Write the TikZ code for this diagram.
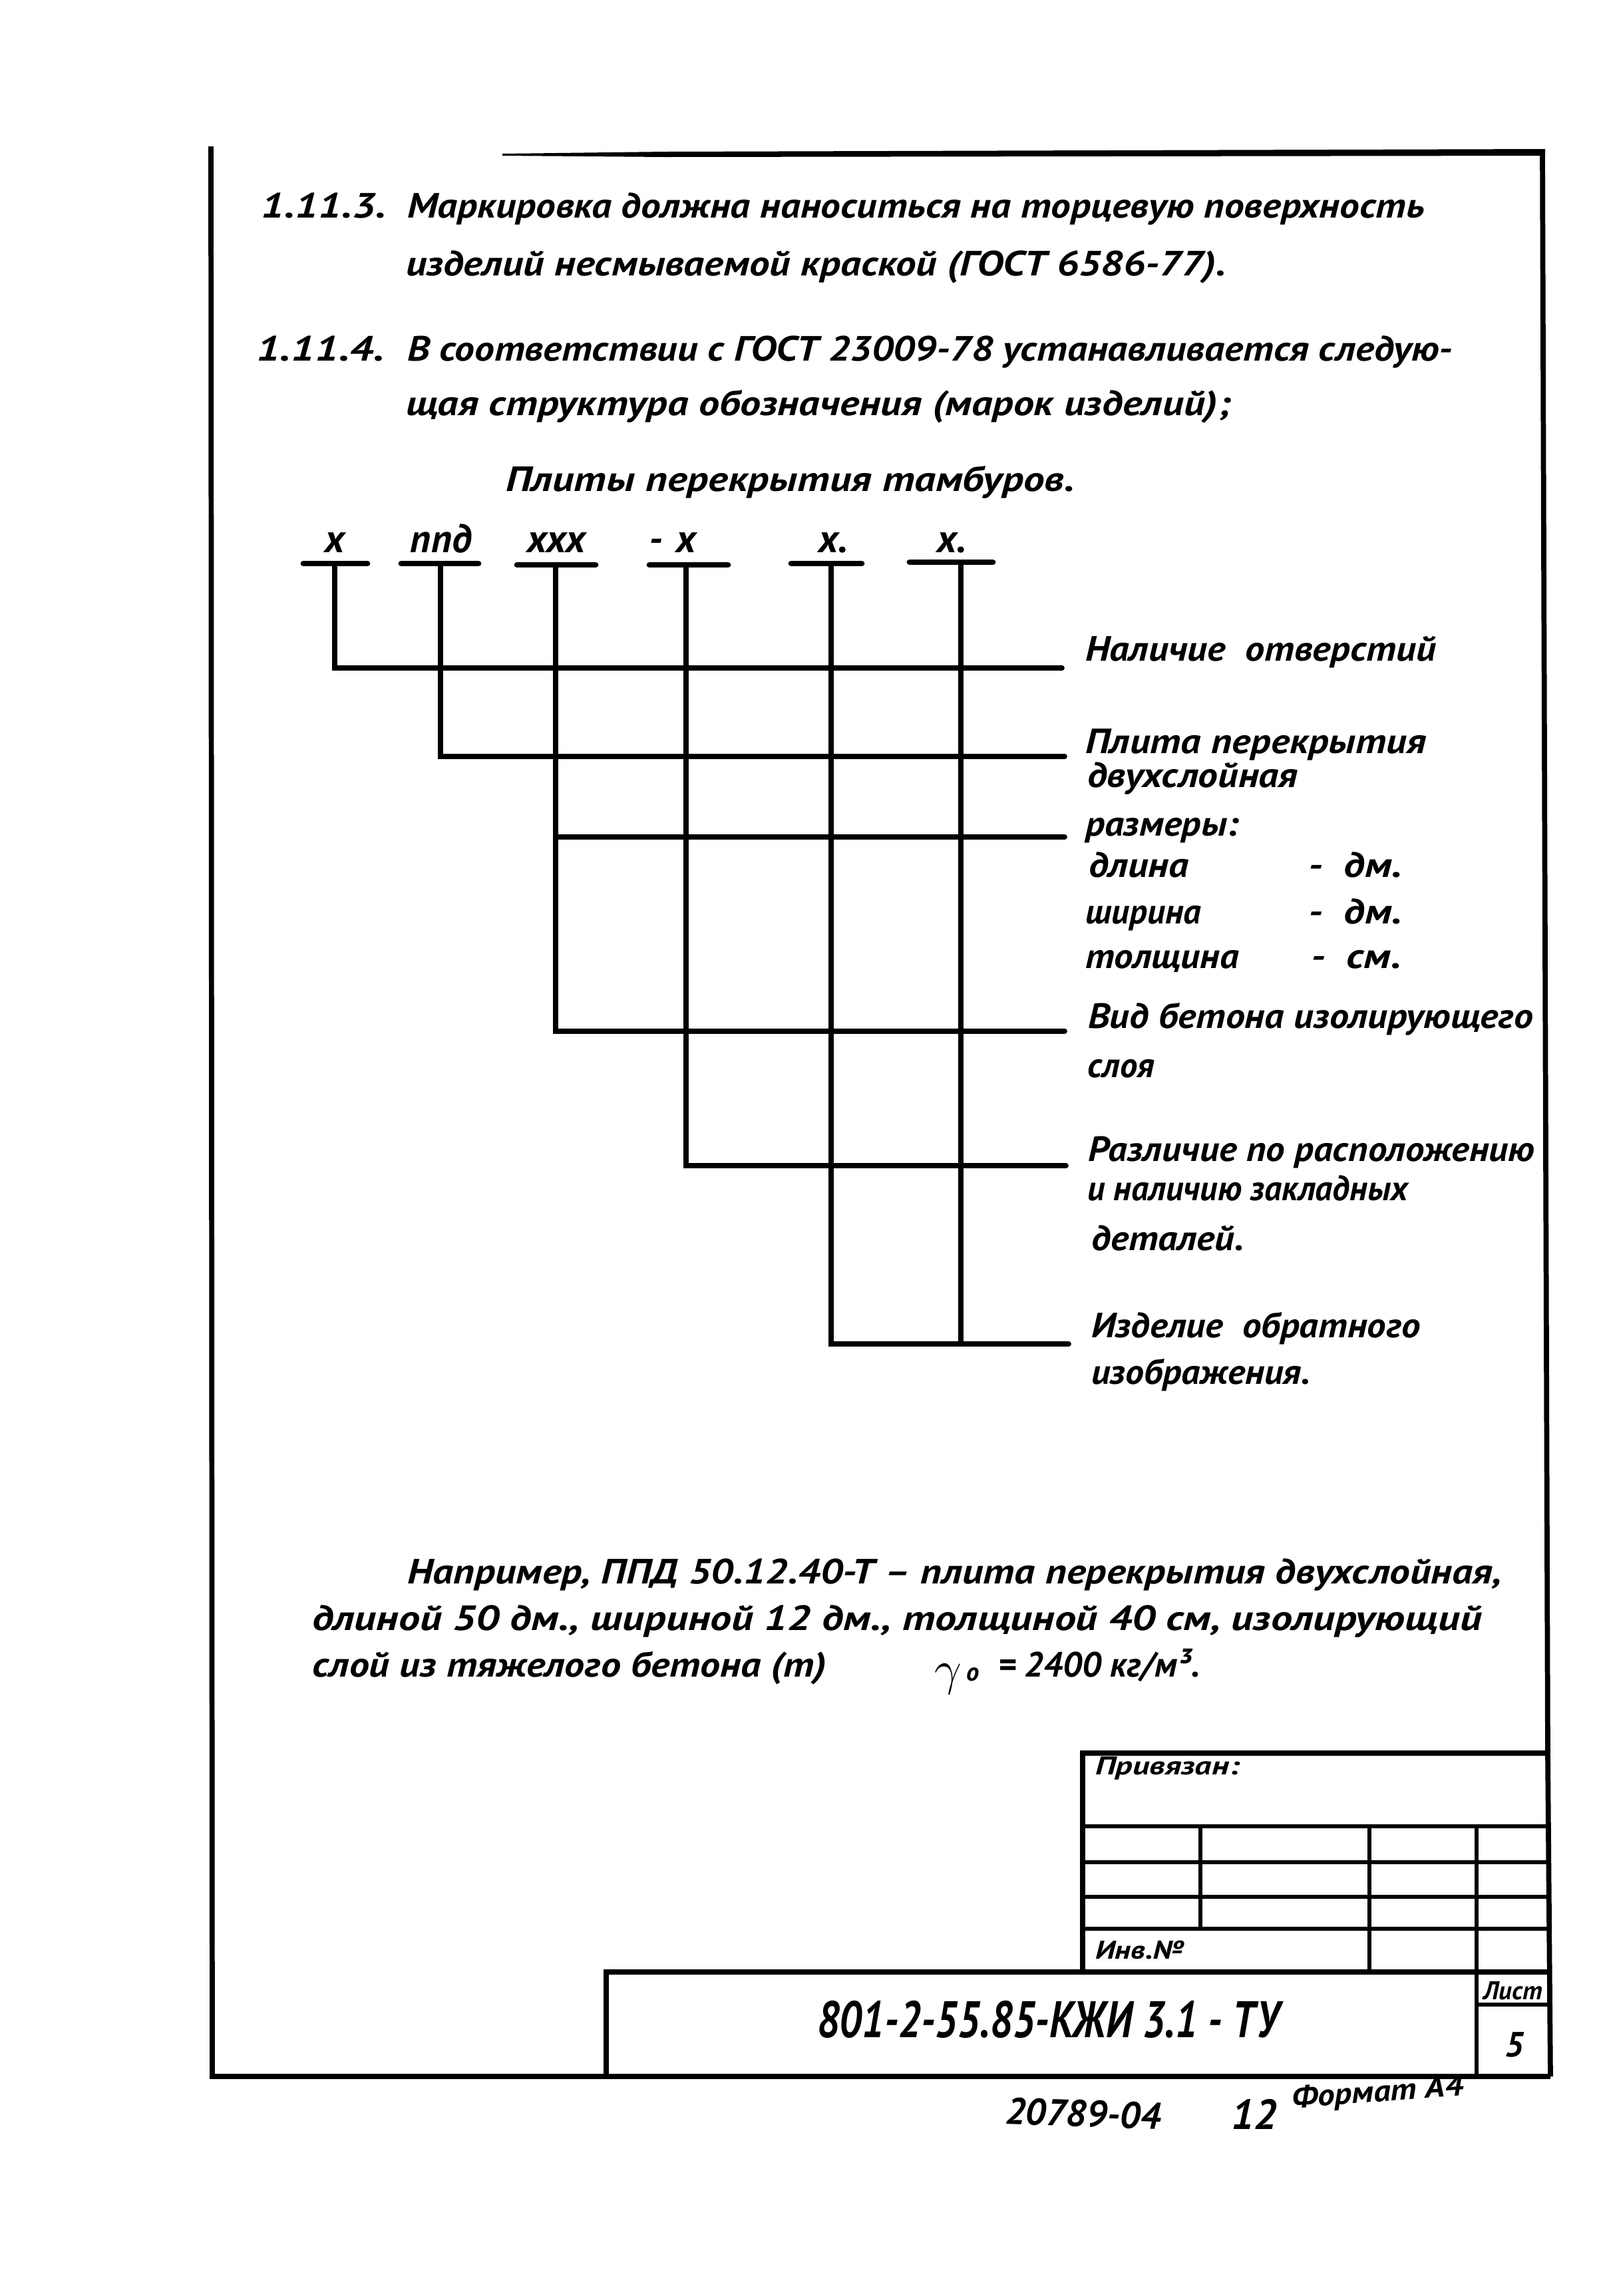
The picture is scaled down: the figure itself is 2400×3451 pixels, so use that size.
\documentclass[tikz,border=0pt]{standalone}
\usepackage{graphicx}
\usepackage{fontspec}
\setmainfont{PT Sans}
\newcommand{\hsc}[2]{\scalebox{#1}[1]{#2}}
\begin{document}
\begin{tikzpicture}[x=0.1mm,y=-0.1mm,
  every node/.style={inner sep=0pt, outer sep=0pt},
  body/.style={anchor=base west, font=\fontsize{15}{18}\selectfont\bfseries\itshape},
  lbl/.style={anchor=base, font=\fontsize{17}{20}\selectfont\bfseries\itshape},
  small/.style={anchor=base west, font=\fontsize{11}{13}\selectfont\bfseries\itshape},
  frame/.style={line width=2.2pt},
  lead/.style={line width=2.2pt, line cap=round},
  ubar/.style={line width=2.5pt, line cap=round},
  cell/.style={line width=1.6pt},
]
\useasboundingbox (0,0) rectangle (2400,3451);
\fill[white] (0,0) rectangle (2400,3451);

% ---------- frame ----------
\coordinate (fTL) at (317,220);
\coordinate (fBL) at (319,3121);
\coordinate (fBR) at (2330,3121);
\coordinate (fTR) at (2318,228);
\coordinate (fMR) at (2326,2635);
\draw[frame] (fTL) -- (fBL) -- (fBR);
\draw[frame] (fTR) -- (fMR) -- (fBR);
\fill (755,231) -- (1000,228) -- (2322,224) -- (2322,234) -- (1000,236) -- (755,234) -- cycle;

% ---------- text 1.11.3 / 1.11.4 ----------
\node[body] (n113) at (392,327) {\hsc{1.22}{1.11.3.}};
\node[body] (l1) at (612,327) {\hsc{1.125}{Маркировка должна наноситься на торцевую поверхность}};
\node[body] (l2) at (610,414) {\hsc{1.16}{изделий несмываемой краской (ГОСТ 6586-77).}};
\node[body] (n114) at (385,542) {\hsc{1.25}{1.11.4.}};
\node[body] (l3) at (612,542) {\hsc{1.13}{В соответствии с ГОСТ 23009-78 устанавливается следую-}};
\node[body] (l4) at (610,624) {\hsc{1.18}{щая структура обозначения (марок изделий);}};
\node[body] (head) at (760,738) {\hsc{1.2}{Плиты перекрытия тамбуров.}};

% ---------- designation chart ----------
\node[lbl] (k1) at (503,830) {х};
\node[lbl] (k2) at (663,830) {ппд};
\node[lbl] (k3) at (836,830) {ххх};
\node[lbl, anchor=base east] (k4) at (1046,830) {-\,\,х};
\node[lbl, anchor=base west] (k5) at (1230,830) {х.};
\node[lbl, anchor=base west] (k6) at (1408,830) {х.};

\draw[ubar] (456,847) coordinate (u1a) -- (552,847) coordinate (u1b);
\draw[ubar] (603,847) coordinate (u2a) -- (719,847) coordinate (u2b);
\draw[ubar] (777,849) coordinate (u3a) -- (895,849) coordinate (u3b);
\draw[ubar] (976,849) coordinate (u4a) -- (1094,849) coordinate (u4b);
\draw[ubar] (1189,847) coordinate (u5a) -- (1295,847) coordinate (u5b);
\draw[ubar] (1367,845) coordinate (u6a) -- (1492,845) coordinate (u6b);

\coordinate (t1) at (503,847);  \coordinate (c1) at (503,1004);  \coordinate (e1) at (1596,1004);
\coordinate (t2) at (662,847);  \coordinate (c2) at (662,1137);  \coordinate (e2) at (1600,1137);
\coordinate (t3) at (835,849);  \coordinate (b3) at (835,1258);  \coordinate (e3) at (1600,1258);
\coordinate (c3) at (835,1550); \coordinate (e4) at (1600,1550);
\coordinate (t4) at (1031,849); \coordinate (c4) at (1031,1752); \coordinate (e5) at (1602,1752);
\coordinate (t5) at (1249,847); \coordinate (c5) at (1249,2020); \coordinate (e6) at (1606,2020);
\coordinate (t6) at (1444,845); \coordinate (c6) at (1444,2020);

\draw[lead] (t1) -- (c1) -- (e1);
\draw[lead] (t2) -- (c2) -- (e2);
\draw[lead] (t3) -- (c3) -- (e4);
\draw[lead] (b3) -- (e3);
\draw[lead] (t4) -- (c4) -- (e5);
\draw[lead] (t5) -- (c5) -- (e6);
\draw[lead] (t6) -- (c6);

% ---------- explanations ----------
\node[body] (r1) at (1631,993) {\hsc{1.11}{Наличие \ отверстий}};
\node[body] (r2) at (1631,1132) {\hsc{1.14}{Плита перекрытия}};
\node[body] (r2b) at (1634,1183) {\hsc{1.13}{двухслойная}};
\node[body] (r3) at (1631,1256) {\hsc{1.09}{размеры:}};
\node[body] (r3a) at (1636,1318) {\hsc{1.13}{длина}};
\node[body] (r3ad) at (1966,1318) {\hsc{1.2}{-\ \ дм.}};
\node[body] (r3b) at (1631,1388) {ширина};
\node[body] (r3bd) at (1966,1388) {\hsc{1.2}{-\ \ дм.}};
\node[body] (r3c) at (1631,1455) {\hsc{1.08}{толщина}};
\node[body] (r3cd) at (1970,1455) {\hsc{1.2}{-\ \ см.}};
\node[body] (r4) at (1635,1545) {\hsc{1.1}{Вид бетона изолирующего}};
\node[body] (r4b) at (1634,1619) {слоя};
\node[body] (r5) at (1635,1745) {\hsc{1.08}{Различие по расположению}};
\node[body] (r5b) at (1634,1804) {\hsc{0.98}{и наличию закладных}};
\node[body] (r5c) at (1640,1879) {\hsc{1.1}{деталей.}};
\node[body] (r6) at (1640,2010) {\hsc{1.08}{Изделие \ обратного}};
\node[body] (r6b) at (1640,2080) {\hsc{1.06}{изображения.}};

% ---------- example ----------
\node[body] (x1) at (612,2380) {\hsc{1.165}{Например, ППД 50.12.40-Т – плита перекрытия двухслойная,}};
\node[body] (x2) at (469,2450) {\hsc{1.22}{длиной 50 дм., шириной 12 дм., толщиной 40 см, изолирующий}};
\node[body] (x3) at (469,2520) {\hsc{1.14}{слой из тяжелого бетона (т)}};
\node[anchor=base west, font=\fontsize{22}{22}\selectfont] (gam) at (1404,2532) {$\gamma$};
\node[body, font=\fontsize{11}{12}\selectfont\bfseries\itshape] (gsub) at (1452,2526) {о};
\node[body] (x3b) at (1500,2520) {= 2400 кг/м³.};

% ---------- title block ----------
\coordinate (pTL) at (1627,2635);
\coordinate (pBL) at (1627,2964);
\draw[frame] (pBL) -- (pTL) -- (fMR);
\foreach \yy in {2745,2799,2851,2899}{\draw[cell] (1627,\yy) -- (2327,\yy);}
\coordinate (g1t) at (1804,2745); \coordinate (g1b) at (1804,2899);
\coordinate (g2t) at (2058,2745); \coordinate (g2b) at (2058,2964);
\coordinate (g3t) at (2219,2745); \coordinate (g3b) at (2219,3121);
\draw[cell] (g1t) -- (g1b);
\draw[cell] (g2t) -- (g2b);
\draw[cell] (g3t) -- (g3b);
\coordinate (mTL) at (911,2964); \coordinate (mTR) at (2328,2964);
\coordinate (mBL) at (911,3121);
\draw[frame] (mBL) -- (mTL) -- (mTR);
\coordinate (sL) at (2219,3013); \coordinate (sR) at (2329,3013);
\draw[cell] (sL) -- (sR);

\node[small] (priv) at (1646,2667) {\hsc{1.3}{Привязан:}};
\node[small] (inv) at (1646,2944) {\hsc{1.2}{Инв.№}};
\node[small, anchor=base] (list) at (2274,3005) {Лист};
\node[anchor=base, font=\fontsize{15}{18}\selectfont\bfseries\itshape] (sheet) at (2276,3091) {5};
\node[anchor=base, font=\fontsize{22}{24}\selectfont\bfseries\itshape] (code) at (1575,3062) {\hsc{0.8}{801-2-55.85-КЖИ 3.1 - ТУ}};

% ---------- below frame ----------
\node[body, font=\fontsize{16}{18}\selectfont\bfseries\itshape, rotate=-2] (num) at (1510,3192) {20789-04};
\node[body, font=\fontsize{18}{20}\selectfont\bfseries\itshape] (n12) at (1850,3200) {12};
\node[body, font=\fontsize{13}{15}\selectfont\bfseries\itshape, rotate=4] (fmt) at (1942,3168) {\hsc{1.12}{Формат А4}};
\end{tikzpicture}
\end{document}
